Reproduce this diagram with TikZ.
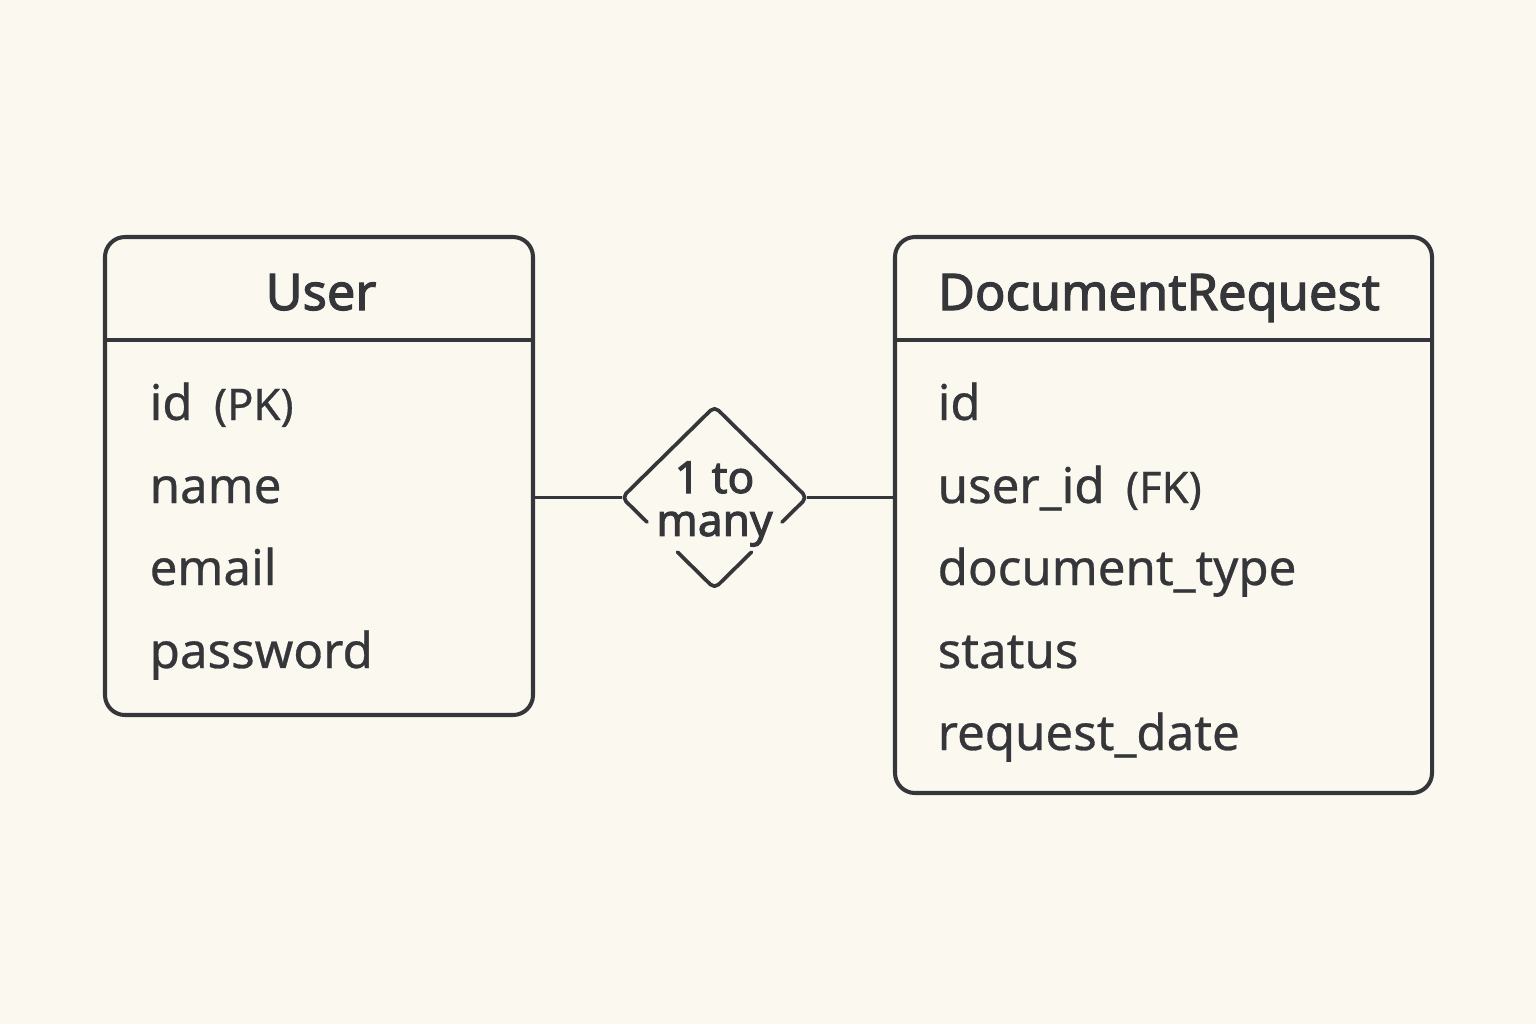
\documentclass[tikz,border=0pt]{standalone}
\usepackage{fontspec}
\setmainfont{Noto Sans}
\newfontfamily\erfont{Noto Sans}[FakeBold=0.6]
\newfontfamily\erheadfont{Noto Sans}[FakeBold=2.2]
\usepackage{tikz}
\usetikzlibrary{shapes.geometric, arrows.meta, positioning, calc}
\definecolor{erbg}{HTML}{FBF9EF}
\definecolor{erink}{HTML}{35363A}

\begin{document}
\begin{tikzpicture}[
  entity/.style={
    rectangle,
    rounded corners=0.2cm,
    draw=erink,
    line width=1.15pt,
    inner sep=0pt,
    outer sep=0pt
  },
  header/.style={
    anchor=base,
    inner sep=0pt,
    font=\fontsize{14.4}{17}\erheadfont,
    text=erink
  },
  attr/.style={
    anchor=base west,
    inner sep=0pt,
    font=\fontsize{14}{17}\erfont,
    text=erink
  },
  keytag/.style={
    inner sep=0pt,
    font=\fontsize{12.4}{15}\erfont,
    text=erink
  },
  reldiamond/.style={
    diamond,
    minimum width=1.85cm,
    minimum height=1.82cm,
    inner sep=0pt,
    outer sep=0pt
  },
  relline/.style={
    draw=erink,
    line width=1.05pt,
    line cap=round,
    line join=round,
    rounded corners=1.6pt
  },
  conn/.style={
    draw=erink,
    line width=1pt
  },
  card/.style={
    align=center,
    inner sep=0pt,
    font=\fontsize{12.6}{12.2}\erheadfont,
    text=erink
  }
]
  % background and page size
  \fill[erbg] (0,0) rectangle (15.36,-10.24);

  % entities
  \node[entity, minimum width=4.28cm, minimum height=4.78cm] (user) at (3.19,-4.76) {};
  \node[entity, minimum width=5.37cm, minimum height=5.56cm] (docreq) at (11.635,-5.15) {};

  \draw[erink, line width=1.15pt] ($(user.north west)+(0,-1.03)$) -- ($(user.north east)+(0,-1.03)$);
  \draw[erink, line width=1.15pt] ($(docreq.north west)+(0,-1.03)$) -- ($(docreq.north east)+(0,-1.03)$);

  \node[header] (userhead) at (3.21,-3.10) {User};
  \node[header] (docreqhead) at (11.59,-3.10) {DocumentRequest};

  % User attributes
  \node[attr] (uid) at (1.49,-4.20) {id};
  \node[keytag, base right=0.2cm of uid] (uidpk) {(PK)};
  \node[attr] (uname) at (1.49,-5.03) {name};
  \node[attr] (uemail) at (1.49,-5.85) {email};
  \node[attr] (upass) at (1.49,-6.68) {password};

  % DocumentRequest attributes
  \node[attr] (did) at (9.37,-4.20) {id};
  \node[attr] (duser) at (9.37,-5.03) {user\_id};
  \node[keytag, base right=0.2cm of duser] (duserfk) {(FK)};
  \node[attr] (dtype) at (9.37,-5.85) {document\_type};
  \node[attr] (dstatus) at (9.37,-6.68) {status};
  \node[attr] (ddate) at (9.37,-7.50) {request\_date};

  % relationship
  \node[reldiamond] (rel) at (7.145,-4.975) {};
  \draw[relline] ($(rel.west)!0.27!(rel.south)$) -- (rel.west) -- (rel.north) -- (rel.east) -- ($(rel.east)!0.27!(rel.south)$);
  \draw[relline] ($(rel.west)!0.6!(rel.south)$) -- (rel.south) -- ($(rel.east)!0.6!(rel.south)$);
  \node[card] (relcard) at (7.145,-5.04) {1 to\\many};

  \draw[conn] (user.east |- rel.west) -- (rel.west);
  \draw[conn] (rel.east) -- (docreq.west |- rel.east);
\end{tikzpicture}
\end{document}
